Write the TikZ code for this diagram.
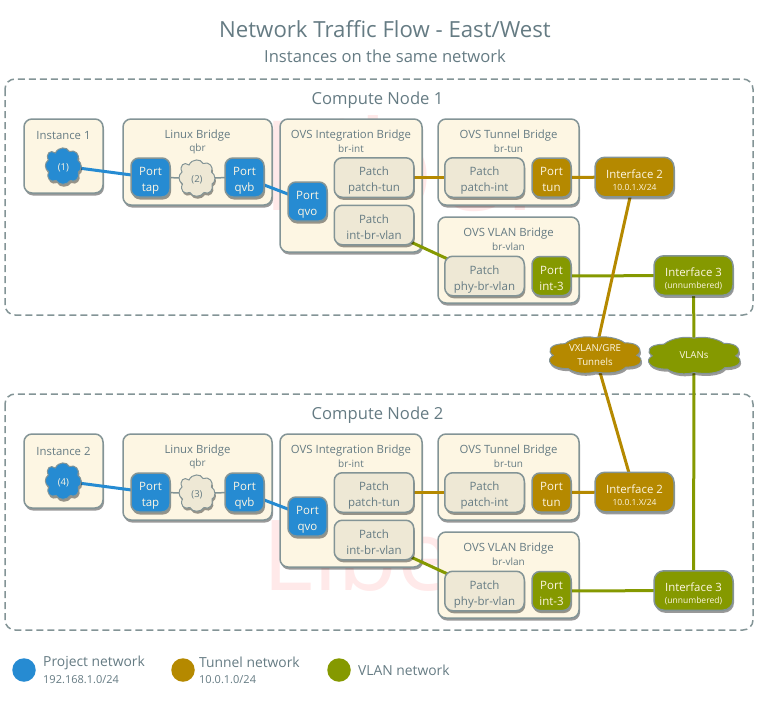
\documentclass[tikz,border=0pt]{standalone}
\usepackage{fontspec}
\setmainfont{Open Sans}
\usetikzlibrary{shadows}
\pgfdeclarelayer{back}\pgfdeclarelayer{mid}\pgfdeclarelayer{wm}
\pgfsetlayers{wm,back,mid,main}
\definecolor{blu}{HTML}{268BD2}
\definecolor{tun}{HTML}{B58900}
\definecolor{vln}{HTML}{859900}
\definecolor{cream}{HTML}{FDF6E3}
\definecolor{patchc}{HTML}{EEE8D5}
\definecolor{frame}{HTML}{839496}
\definecolor{txt}{HTML}{657B83}
\definecolor{lighttxt}{HTML}{FDF6E3}
\definecolor{wmc}{HTML}{FFE9E9}
\tikzset{
 x=1pt,y=-1pt,
 shad/.style={drop shadow={shadow xshift=1pt,shadow yshift=-2.5pt,opacity=.4,fill=black}},
 boxbase/.style={rectangle,draw=frame,line width=1.5pt,rounded corners=8pt,inner sep=0pt,outer sep=0pt,align=center,shad},
 container/.style={boxbase,fill=cream,text=txt,anchor=north west},
 port/.style={boxbase,minimum width=39pt,minimum height=39pt,text=lighttxt,font=\fontsize{11.5}{16}\selectfont},
 patchbox/.style={boxbase,fill=patchc,minimum width=79.5pt,minimum height=39.5pt,text=txt,font=\fontsize{11.5}{16}\selectfont},
 iface/.style={boxbase,minimum width=79pt,minimum height=39.5pt,text=lighttxt,font=\fontsize{11.4}{12}\selectfont,rounded corners=10pt},
 cloudline/.style={draw=frame,line width=1pt,shad},
 cloudtext/.style={inner sep=0pt,minimum width=30pt,minimum height=30pt,font=\fontsize{9.5}{10}\selectfont},
 widetext/.style={inner sep=0pt,minimum width=80pt,minimum height=30pt,text=lighttxt,align=center,font=\fontsize{9.7}{14}\selectfont},
 zone/.style={draw=frame,line width=1.5pt,dash pattern=on 7pt off 4pt,rounded corners=10pt},
 hd/.style={text=txt,font=\fontsize{11.35}{12}\selectfont,anchor=center,inner sep=0pt},
 sb/.style={text=txt,font=\fontsize{10}{11}\selectfont,anchor=center,inner sep=0pt},
 wire/.style={line width=3pt},
 thin wire/.style={line width=1.5pt,draw=frame},
 legdot/.style={circle,minimum size=23.5pt,inner sep=0pt},
 legt/.style={text=txt,font=\fontsize{13.85}{15}\selectfont,anchor=west,inner sep=0pt},
 legs/.style={text=txt,font=\fontsize{11}{12}\selectfont,anchor=west,inner sep=0pt},
 mark text/.style={text=wmc,anchor=base west,inner sep=0pt},
}
\newcommand{\twol}[2]{\raisebox{-6pt}[0pt][0pt]{\begin{tabular}{@{}c@{}}#1\\#2\end{tabular}}}
\newcommand{\ifl}[2]{\raisebox{-7.5pt}[0pt][0pt]{\begin{tabular}{@{}c@{}}#1\\{\fontsize{8.5}{9}\selectfont #2}\end{tabular}}}
\newcommand{\contbox}[7]{% name,x1,y1,x2,y2,title,sub
 \node[container,minimum width={((#4)-(#2))*1pt},minimum height={((#5)-(#3))*1pt}] (#1) at (#2,#3) {};
 \node[hd] (#1t) at ({(#2+#4)/2},#3+17) {#6};
 \node[sb] (#1s) at ({(#2+#4)/2},#3+30) {#7};
}
\newcommand{\smallcloudpath}[2]{% centre node, fill
 \path[cloudline,fill=#2,shift={(#1.center)}] (-8,-13)
  .. controls (-5,-19.5) and (4,-19.5) .. (6,-14.5)
  .. controls (12,-17) and (17,-11) .. (14.5,-6)
  .. controls (19,-3) and (19,4) .. (15,6)
  .. controls (17,12) and (12,17) .. (7,14.5)
  .. controls (4,19.5) and (-5,19.5) .. (-7,14.5)
  .. controls (-13,17) and (-17.5,12) .. (-14.5,6)
  .. controls (-19,3) and (-19,-3) .. (-15,-6)
  .. controls (-18,-12) and (-13,-17) .. cycle;
}
\newcommand{\widecloudpath}[2]{% centre node, fill
 \path[cloudline,fill=#2,shift={(#1.center)}] (-41.7,0.3)
  .. controls (-48,-3) and (-46.7,-11.3) .. (-30,-11.3)
  .. controls (-23.3,-17.3) and (-8.3,-19.7) .. (0,-17.3)
  .. controls (8.3,-19.7) and (23.3,-17.3) .. (30,-12)
  .. controls (45,-13) and (48.3,-3) .. (41.7,0.3)
  .. controls (50,3.7) and (46.7,12.7) .. (31,12)
  .. controls (25,18.7) and (10,18.7) .. (0,17)
  .. controls (-8.3,19.3) and (-20,18.7) .. (-26.7,13.7)
  .. controls (-45,13.7) and (-50,4.7) .. cycle;
}
\begin{document}
\begin{tikzpicture}
\useasboundingbox (0,0) rectangle (762,701);
\node[text=txt,font=\fontsize{22.2}{26}\selectfont,inner sep=0pt] (title) at (385,29) {Network Traffic Flow - East/West};
\node[text=txt,font=\fontsize{16.6}{20}\selectfont,inner sep=0pt] (subtitle) at (385,56) {Instances on the same network};
\begin{pgfonlayer}{wm}
\node[mark text,font=\fontsize{125}{125}\selectfont] (wm1) at (261,210) {Liber};
\node[mark text,font=\fontsize{98}{98}\selectfont] (wm2) at (262,590) {Liber};
\end{pgfonlayer}
\foreach \s/\o/\nn/\inst/\ca/\cb in {a/0/1/1/1/2,b/315/2/2/4/3}{
 \begin{pgfonlayer}{back}
 \draw[zone] (5,79+\o) rectangle (753,315+\o);
 \contbox{i\s}{24}{119+\o}{103}{193+\o}{Instance \inst}{}
 \contbox{l\s}{123}{119+\o}{272}{205+\o}{Linux Bridge}{qbr}
 \contbox{o\s}{280}{119+\o}{422}{252+\o}{OVS Integration Bridge}{br-int}
 \contbox{t\s}{438}{119+\o}{579}{205+\o}{OVS Tunnel Bridge}{br-tun}
 \contbox{v\s}{438}{217+\o}{579}{303+\o}{OVS VLAN Bridge}{br-vlan}
 \end{pgfonlayer}
 \node[text=txt,font=\fontsize{16.6}{20}\selectfont,inner sep=0pt] (cn\s) at (377.5,100.5+\o) {Compute Node \nn};
 \node[cloudtext,text=lighttxt] (inst\s) at (63.3,166+\o) {\raisebox{-4pt}[0pt][0pt]{(\ca)}};
 \node[port,fill=blu] (tap\s) at (150.5,177.5+\o) {\twol{Port}{tap}};
 \node[cloudtext,text=txt] (cl\s) at (197,178+\o) {\raisebox{-4pt}[0pt][0pt]{(\cb)}};
 \node[port,fill=blu] (qvb\s) at (244.5,177.5+\o) {\twol{Port}{qvb}};
 \node[port,fill=blu] (qvo\s) at (307.5,201.5+\o) {\twol{Port}{qvo}};
 \node[patchbox] (ptun\s) at (374,177.5+\o) {\twol{Patch}{patch-tun}};
 \node[patchbox] (pibv\s) at (374,225+\o) {\twol{Patch}{int-br-vlan}};
 \node[patchbox] (pint\s) at (484.5,177.5+\o) {\twol{Patch}{patch-int}};
 \node[patchbox] (pphy\s) at (484.5,276+\o) {\twol{Patch}{phy-br-vlan}};
 \node[port,fill=tun] (ptn\s) at (551.5,177.5+\o) {\twol{Port}{tun}};
 \node[port,fill=vln] (pi3\s) at (551.5,276+\o) {\twol{Port}{int-3}};
 \node[iface,fill=tun] (if2\s) at (634.5,177+\o) {\ifl{Interface 2}{10.0.1.X/24}};
 \node[iface,fill=vln] (if3\s) at (693.5,275.5+\o) {\ifl{Interface 3}{(unnumbered)}};
 \begin{pgfonlayer}{mid}
 \draw[wire,blu] (inst\s.center) -- (tap\s.center);
 \draw[wire,blu] (qvb\s.center) -- (qvo\s.center);
 \draw[thin wire] (tap\s.center) -- (cl\s.center);
 \draw[thin wire] (cl\s.center) -- (qvb\s.center);
 \draw[wire,tun] (ptun\s.center) -- (pint\s.center);
 \draw[wire,tun] (ptn\s.center) -- (if2\s.center);
 \draw[wire,vln] (pibv\s.center) -- (pphy\s.center);
 \draw[wire,vln] (pi3\s.center) -- (if3\s.center);
 \smallcloudpath{inst\s}{blu}
 \smallcloudpath{cl\s}{patchc}
 \end{pgfonlayer}
}
\node[widetext] (vx) at (595,355) {VXLAN/GRE\\Tunnels};
\node[widetext] (vl) at (694,355.5) {VLANs};
\begin{pgfonlayer}{mid}
 \draw[wire,tun] (if2a.center) -- (vx.center);
 \draw[wire,tun] (vx.center) -- (if2b.center);
 \draw[wire,vln] (if3a.center) -- (vl.center);
 \draw[wire,vln] (vl.center) -- (if3b.center);
 \widecloudpath{vx}{tun}
 \widecloudpath{vl}{vln}
\end{pgfonlayer}
\node[legdot,fill=blu] (d1) at (24,670) {};
\node[legt] (l1) at (43,662.5) {Project network};
\node[legs] (s1) at (43,680) {192.168.1.0/24};
\node[legdot,fill=tun] (d2) at (183,670) {};
\node[legt] (l2) at (199,662.5) {Tunnel network};
\node[legs] (s2) at (199,680) {10.0.1.0/24};
\node[legdot,fill=vln] (d3) at (339,670) {};
\node[legt] (l3) at (358,670.5) {VLAN network};
\end{tikzpicture}
\end{document}
